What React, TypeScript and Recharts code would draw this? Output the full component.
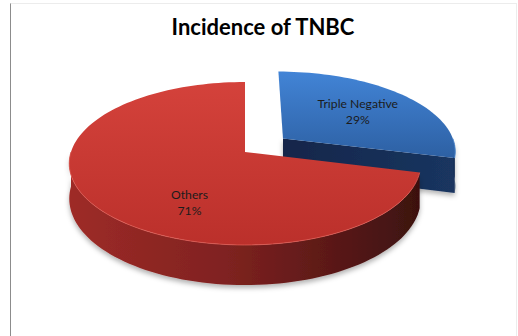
import { PieChart, Pie } from "recharts";

// values (percent of cases)
const categories = ["Triple Negative", "Others"];
const shares = [29, 71];
const explodedSlice = "Triple Negative";

const data = categories.map((name, i) => ({ name, value: shares[i] }));

// fake 3D: a tilted disc seen in perspective
const RAD = Math.PI / 180;
const PERSPECTIVE = 0.141;
const TILT = 0.459;
const DEPTH = 0.198;
const EXPLODE = 0.283;

const palette: Record<string, { top: string; wall: string; face: string; edge: string }> = {
  "Triple Negative": { top: "url(#blueTop)", wall: "url(#blueWall)", face: "url(#blueFace)", edge: "#5a93d8" },
  Others: { top: "url(#redTop)", wall: "url(#redWall)", face: "url(#redWall)", edge: "#dd5a52" },
};

// where Excel dropped the data labels (radius fraction, depth fraction)
const labelSpot: Record<string, { r: number; z: number }> = {
  "Triple Negative": { r: 0.6, z: 0 },
  Others: { r: 0.39, z: 0.88 },
};

type Pt = [number, number];

function projector(cx: number, cy: number, R: number, midAngle: number, explode: number) {
  const du = explode * Math.cos(midAngle * RAD);
  const dv = -explode * Math.sin(midAngle * RAD);
  return (r: number, deg: number, z: number): Pt => {
    const u = du + r * Math.cos(deg * RAD);
    const v = dv - r * Math.sin(deg * RAD);
    const w = 1 - PERSPECTIVE * v;
    return [cx + (R * u) / w, cy + (R * TILT * v) / w + (z * R * DEPTH) / w];
  };
}

function arc(proj: (r: number, d: number, z: number) => Pt, a: number, b: number, z: number) {
  const n = Math.max(2, Math.ceil(Math.abs(b - a) / 2));
  const pts: Pt[] = [];
  for (let i = 0; i <= n; i++) pts.push(proj(1, a + ((b - a) * i) / n, z));
  return pts;
}

const toLine = (pts: Pt[]) =>
  pts.map((p, i) => `${i ? "L" : "M"}${p[0].toFixed(2)},${p[1].toFixed(2)}`).join("");
const toPath = (pts: Pt[]) => toLine(pts) + "Z";

function Slice3D(props: any) {
  const { cx, cy, outerRadius, startAngle, endAngle } = props;
  const name = props.name ?? props.payload?.name;
  const mid = (startAngle + endAngle) / 2;
  const proj = projector(cx, cy, outerRadius, mid, name === explodedSlice ? EXPLODE : 0);
  const lo = Math.min(startAngle, endAngle);
  const hi = Math.max(startAngle, endAngle);
  const colors = palette[name];

  // front half of the rim (facing the viewer)
  const walls: [number, number][] = [];
  for (let k = -2; k <= 2; k++) {
    const a = Math.max(lo, -180 + 360 * k);
    const b = Math.min(hi, 360 * k);
    if (b > a) walls.push([a, b]);
  }

  const faces: number[] = [];
  if (Math.sin((lo - 90) * RAD) < -0.01) faces.push(lo);
  if (Math.sin((hi + 90) * RAD) < -0.01) faces.push(hi);

  const top = [proj(0, 0, 0), ...arc(proj, lo, hi, 0)];

  return (
    <g>
      <g filter="url(#pieShadow)">
        {faces.map((a) => (
          <path
            key={`f${a}`}
            d={toPath([proj(0, a, 0), proj(1, a, 0), proj(1, a, 1), proj(0, a, 1)])}
            fill={colors.face}
          />
        ))}
        {walls.map(([a, b]) => (
          <path
            key={`w${a}`}
            d={toPath([...arc(proj, a, b, 0), ...arc(proj, a, b, 1).reverse()])}
            fill={colors.wall}
          />
        ))}
      </g>
      <path d={toPath(top)} fill={colors.top} />
      {walls.map(([a, b]) => (
        <path
          key={`e${a}`}
          d={toLine(arc(proj, a, b, 0))}
          fill="none"
          stroke={colors.edge}
          strokeWidth={1}
          strokeOpacity={0.8}
        />
      ))}
    </g>
  );
}

function renderLabel(props: any) {
  const { cx, cy, outerRadius, startAngle, endAngle, name, percent } = props;
  const mid = (startAngle + endAngle) / 2;
  const proj = projector(cx, cy, outerRadius, mid, name === explodedSlice ? EXPLODE : 0);
  const spot = labelSpot[name];
  const [x, y] = proj(spot.r, mid, spot.z);
  return (
    <text textAnchor="middle" fontFamily="Lato, 'Open Sans', sans-serif" fontSize={12.2} fill="#1c1c1c">
      <tspan x={x} y={y - 4}>{name}</tspan>
      <tspan x={x} y={y + 12}>{Math.round(percent * 100)}%</tspan>
    </text>
  );
}

export default function App() {
  return (
    <div style={{ position: "absolute", left: 0, top: 0, width: 518, height: 336, background: "#fff", overflow: "hidden" }}>
      <div
        style={{
          position: "absolute",
          left: 10,
          top: 3,
          width: 505,
          height: 340,
          borderLeft: "1.5px solid #8c8c8c",
          borderTop: "1px solid #ececec",
          borderRight: "1px solid #ececec",
        }}
      />
      <div
        style={{
          position: "absolute",
          left: 0,
          top: 13,
          width: 526,
          textAlign: "center",
          fontFamily: "Lato, 'Open Sans', sans-serif",
          fontWeight: 700,
          fontSize: 22,
          color: "#000",
        }}
      >
        Incidence of TNBC
      </div>
      <div style={{ position: "absolute", left: 0, top: 0 }}>
        <PieChart width={518} height={336} margin={{ top: 0, right: 0, bottom: 0, left: 0 }}>
          <defs>
            <linearGradient id="redTop" x1="0" y1="0" x2="0" y2="1">
              <stop offset="0%" stopColor="#d4423b" />
              <stop offset="100%" stopColor="#bb302b" />
            </linearGradient>
            <linearGradient id="redWall" x1="0" y1="0" x2="1" y2="0">
              <stop offset="0%" stopColor="#9e2b27" />
              <stop offset="45%" stopColor="#7f2220" />
              <stop offset="100%" stopColor="#3c1110" />
            </linearGradient>
            <linearGradient id="blueTop" x1="0" y1="0" x2="0" y2="1">
              <stop offset="0%" stopColor="#4284d6" />
              <stop offset="100%" stopColor="#2d60a3" />
            </linearGradient>
            <linearGradient id="blueFace" x1="0" y1="0" x2="1" y2="0">
              <stop offset="0%" stopColor="#12264a" />
              <stop offset="100%" stopColor="#1a3560" />
            </linearGradient>
            <linearGradient id="blueWall" x1="0" y1="0" x2="1" y2="0">
              <stop offset="0%" stopColor="#1a3560" />
              <stop offset="100%" stopColor="#14284a" />
            </linearGradient>
            <filter id="pieShadow" x="-10%" y="-10%" width="120%" height="140%">
              <feDropShadow dx="0" dy="3" stdDeviation="2.5" floodColor="#000" floodOpacity="0.3" />
            </filter>
          </defs>
          <Pie
            data={data}
            dataKey="value"
            nameKey="name"
            cx={245}
            cy={152}
            outerRadius={174}
            startAngle={90}
            endAngle={-270}
            stroke="none"
            shape={Slice3D}
            label={renderLabel}
            labelLine={false}
            isAnimationActive={false}
          />
        </PieChart>
      </div>
    </div>
  );
}
